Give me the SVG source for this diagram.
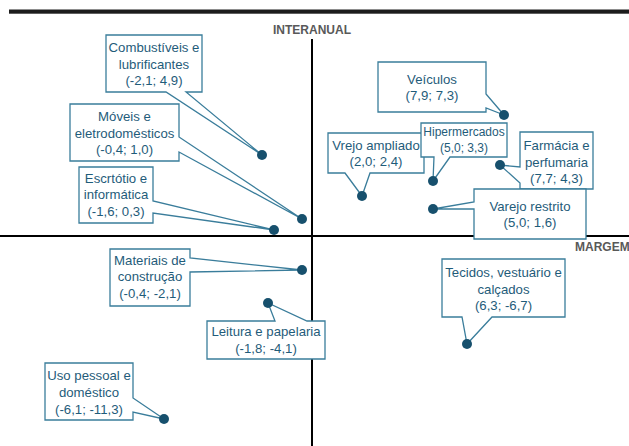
<svg xmlns="http://www.w3.org/2000/svg" width="629" height="446" viewBox="0 0 629 446">
<style>
.c{fill:#fff;stroke:#3a7d9b;stroke-width:1.3;stroke-linejoin:miter}
.t{font-family:"Liberation Sans",Arial,sans-serif;font-size:13.2px;fill:#1f5c7a;text-anchor:middle}
.s{font-size:12px}
.d{fill:#17506d}
.ax{stroke:#000;stroke-width:2}
.al{font-family:"Liberation Sans",Arial,sans-serif;font-size:12px;font-weight:bold;fill:#595959}
</style>
<rect width="629" height="446" fill="#fff"/>
<rect x="9" y="9.5" width="620" height="4.2" fill="#1c1c1c"/>
<g id="axes">
<line class="ax" x1="0" y1="236" x2="629" y2="236"/>
<line class="ax" x1="312" y1="39" x2="312" y2="446"/>
<text class="al" x="312" y="34" text-anchor="middle">INTERANUAL</text>
<text class="al" x="575" y="251">MARGEM</text>
</g>
<g id="connectors"></g>
<g id="combustiveis">
<path class="c" d="M106,35 H202 V92 H186 L262,155 L166,92 H106 Z"/>
<circle class="d" cx="262" cy="155" r="5"/>
<text class="t" x="154" y="52">Combustíveis e</text>
<text class="t" x="154" y="68.5">lubrificantes</text>
<text class="t" x="154" y="85">(-2,1; 4,9)</text>
</g>
<g id="moveis">
<path class="c" d="M70,104 H179 V137 L302,219 L179,152 V161 H70 Z"/>
<circle class="d" cx="302" cy="219" r="5"/>
<text class="t" x="124.5" y="121">Móveis e</text>
<text class="t" x="124.5" y="137.5">eletrodomésticos</text>
<text class="t" x="124.5" y="154">(-0,4; 1,0)</text>
</g>
<g id="escritorio">
<path class="c" d="M79,167 H153 V201 L274,230 L153,213 V223 H79 Z"/>
<circle class="d" cx="274" cy="230" r="5"/>
<text class="t" x="116" y="182.5">Escrtótio e</text>
<text class="t" x="116" y="199">informática</text>
<text class="t" x="116" y="215.5">(-1,6; 0,3)</text>
</g>
<g id="veiculos">
<path class="c" d="M378,62 H486 V94 L504,115 L486,108 V112 H378 Z"/>
<circle class="d" cx="504" cy="115" r="5"/>
<text class="t" x="432" y="83.5">Veículos</text>
<text class="t" x="432" y="100">(7,9; 7,3)</text>
</g>
<g id="varejo-ampliado">
<path class="c" d="M328,133 H424 V173 H370 L362,196 L345,173 H328 Z"/>
<circle class="d" cx="362" cy="196" r="5"/>
<text class="t" x="376" y="149.5">Vrejo ampliado</text>
<text class="t" x="376" y="166">(2,0; 2,4)</text>
</g>
<g id="hipermercados">
<path class="c" d="M421,123 H507 V157 H450 L433,181 L434,157 H421 Z"/>
<circle class="d" cx="433" cy="181" r="5"/>
<text class="t s" x="464" y="135.5">Hipermercados</text>
<text class="t s" x="464" y="152">(5,0; 3,3)</text>
</g>
<g id="farmacia">
<path class="c" d="M520,132 H593 V189 H520 V183 L500,165 L520,167 Z"/>
<circle class="d" cx="500" cy="165" r="5"/>
<text class="t" x="556.5" y="149.5">Farmácia e</text>
<text class="t" x="556.5" y="166.5">perfumaria</text>
<text class="t" x="556.5" y="183">(7,7; 4,3)</text>
</g>
<g id="varejo-restrito">
<path class="c" d="M474,189 H586 V239 H474 V209 L433,209 L474,202 Z"/>
<circle class="d" cx="433" cy="209" r="5"/>
<text class="t" x="530" y="210.5">Varejo restrito</text>
<text class="t" x="530" y="227">(5,0; 1,6)</text>
</g>
<g id="materiais">
<path class="c" d="M110,249 H190 V258 L302,270 L190,272 V306 H110 Z"/>
<circle class="d" cx="302" cy="270" r="5"/>
<text class="t" x="150" y="264.5">Materiais de</text>
<text class="t" x="150" y="281">construção</text>
<text class="t" x="150" y="297.5">(-0,4; -2,1)</text>
</g>
<g id="leitura">
<path class="c" d="M207,321 H275 L268,303 L307,321 H325 V359 H207 Z"/>
<circle class="d" cx="268" cy="303" r="5"/>
<text class="t" x="266" y="336">Leitura e papelaria</text>
<text class="t" x="266" y="352.5">(-1,8; -4,1)</text>
</g>
<g id="tecidos">
<path class="c" d="M442,259 H565 V317 H492 L467,344 L462,317 H442 Z"/>
<circle class="d" cx="467" cy="344" r="5"/>
<text class="t" x="503.5" y="277">Tecidos, vestuário e</text>
<text class="t" x="503.5" y="293.5">calçados</text>
<text class="t" x="503.5" y="310">(6,3; -6,7)</text>
</g>
<g id="uso-pessoal">
<path class="c" d="M45,363 H133 V398 L164,419 L133,412 V420 H45 Z"/>
<circle class="d" cx="164" cy="419" r="5"/>
<text class="t" x="89" y="380">Uso pessoal e</text>
<text class="t" x="89" y="397">doméstico</text>
<text class="t" x="89" y="413.5">(-6,1; -11,3)</text>
</g>
</svg>
